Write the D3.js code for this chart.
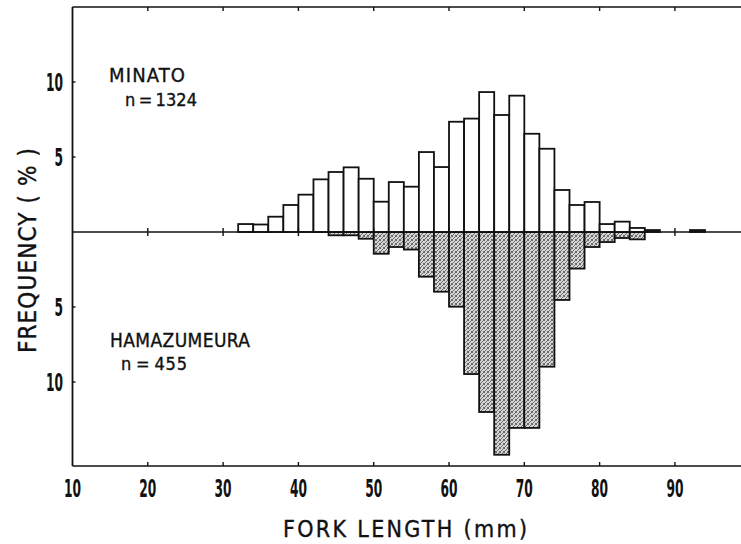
<!DOCTYPE html>
<html>
<head>
<meta charset="utf-8">
<script src="https://cdn.jsdelivr.net/npm/d3@7"></script>
<style>
  html, body { margin: 0; padding: 0; background: #fff; }
  svg { display: block; }
  text { font-family: "DejaVu Sans Condensed", "DejaVu Sans", "Liberation Sans", sans-serif; fill: #111; }
  .lab { stroke: #111; stroke-width: 0.35px; }
</style>
</head>
<body>
<svg id="chart" width="741" height="544"></svg>
<script>
// Bin starts (mm), each bin 2 mm wide
const binStarts = [32,34,36,38,40,42,44,46,48,50,52,54,56,58,60,62,64,66,68,70,72,74,76,78,80,82,84,86,88,90,92];
// MINATO frequency (%) per bin (upward)
const minato = [0.53,0.5,1.02,1.8,2.49,3.51,4.0,4.31,3.55,2.02,3.33,3.02,5.33,4.33,7.35,7.56,9.33,7.8,9.09,6.55,5.55,2.8,1.8,2.0,0.53,0.69,0.27,0.13,0,0,0.13];
// HAMAZUMEURA frequency (%) per bin (downward)
const hamazu = [0,0,0,0,0,0,0.22,0.22,0.45,1.45,1.0,1.17,2.98,3.98,4.98,9.47,12.0,14.85,13.06,13.06,8.98,4.53,2.44,1.0,0.67,0.4,0.49,0,0,0,0];
const binWidth = 2;
const xTicks = [10,20,30,40,50,60,70,80,90];
const yTicks = [-10,-5,5,10];
const xLabel = "FORK LENGTH (mm)";
const yLabel = "FREQUENCY ( % )";
const groups = [
  {name: "MINATO", n: "n\u2009=\u20091324"},
  {name: "HAMAZUMEURA", n: "n\u2009=\u2009455"}
];

const svg = d3.select("#chart");
const x = d3.scaleLinear().domain([10, 99]).range([72.5, 742.7]);
const y = d3.scaleLinear().domain([-15.6, 15]).range([466, 7]);

// stipple pattern
const defs = svg.append("defs");
const pat = defs.append("pattern").attr("id", "stip").attr("patternUnits", "userSpaceOnUse")
  .attr("width", 4).attr("height", 4);
pat.append("rect").attr("width", 4).attr("height", 4).attr("fill", "#d6d6d6");
[[0,0],[2,1],[1,2],[3,3],[3,0],[0,3]].forEach(([a,b]) =>
  pat.append("rect").attr("x", a).attr("y", b).attr("width", 1).attr("height", 1).attr("fill", "#6a6a6a"));

const data = binStarts.map((s, i) => ({s, m: minato[i], h: hamazu[i]}));

// Hamazumeura bars (downward)
svg.append("g").selectAll("rect").data(data.filter(d => d.h > 0)).join("rect")
  .attr("x", d => x(d.s)).attr("width", d => x(d.s + binWidth) - x(d.s))
  .attr("y", y(0)).attr("height", d => y(-d.h) - y(0))
  .attr("fill", "url(#stip)").attr("stroke", "#111").attr("stroke-width", 1.8);

// Minato bars (upward)
svg.append("g").selectAll("rect").data(data.filter(d => d.m > 0)).join("rect")
  .attr("x", d => x(d.s)).attr("width", d => x(d.s + binWidth) - x(d.s))
  .attr("y", d => y(d.m)).attr("height", d => y(0) - y(d.m))
  .attr("fill", d => d.m < 0.2 ? "#555" : "#fff").attr("stroke", "#111").attr("stroke-width", 1.8);

const x0 = x.range()[0], x1 = 741;
// frame lines
svg.append("line").attr("x1", x0).attr("x2", x1).attr("y1", y(15)).attr("y2", y(15)).attr("stroke", "#111").attr("stroke-width", 1.5);
svg.append("line").attr("x1", x0).attr("x2", x1).attr("y1", y(0)).attr("y2", y(0)).attr("stroke", "#111").attr("stroke-width", 1.5);
svg.append("line").attr("x1", x0).attr("x2", x1).attr("y1", y(-15.6)).attr("y2", y(-15.6)).attr("stroke", "#111").attr("stroke-width", 1.5);
svg.append("line").attr("x1", x0).attr("x2", x0).attr("y1", y(15)).attr("y2", y(-15.6)).attr("stroke", "#111").attr("stroke-width", 1.8);

// x ticks: top (inward), zero line (crossing), bottom (inward)
const tk = svg.append("g").attr("stroke", "#111").attr("stroke-width", 1.4);
xTicks.slice(1).forEach(v => {
  tk.append("line").attr("x1", x(v)).attr("x2", x(v)).attr("y1", y(15)).attr("y2", y(15) + 4);
  tk.append("line").attr("x1", x(v)).attr("x2", x(v)).attr("y1", y(0) - 4).attr("y2", y(0) + 4);
  tk.append("line").attr("x1", x(v)).attr("x2", x(v)).attr("y1", y(-15.6)).attr("y2", y(-15.6) - 4);
});
yTicks.forEach(v => {
  tk.append("line").attr("x1", x0).attr("x2", x0 + 3).attr("y1", y(v)).attr("y2", y(v));
});

// x tick labels
svg.append("g").selectAll("text").data(xTicks).join("text")
  .attr("x", d => x(d)).attr("y", 497).attr("text-anchor", "middle")
  .attr("font-size", 25).attr("font-weight", "bold")
  .attr("textLength", 17).attr("lengthAdjust", "spacingAndGlyphs")
  .text(d => d);

// y tick labels
svg.append("g").selectAll("text").data(yTicks).join("text")
  .attr("x", 63).attr("y", d => y(d) + 9).attr("text-anchor", "end")
  .attr("font-size", 25).attr("font-weight", "bold")
  .attr("textLength", d => String(Math.abs(d)).length * 8.5).attr("lengthAdjust", "spacingAndGlyphs")
  .text(d => Math.abs(d));

// axis titles
svg.append("text").attr("class", "lab").attr("x", 283).attr("y", 537)
  .attr("font-size", 23).attr("textLength", 244).attr("lengthAdjust", "spacing")
  .text(xLabel);
svg.append("text").attr("class", "lab").attr("transform", "translate(36,353) rotate(-90)")
  .attr("font-size", 24).attr("textLength", 205).attr("lengthAdjust", "spacing")
  .text(yLabel);

// group labels
svg.append("text").attr("class", "lab").attr("x", 109).attr("y", 82).attr("font-size", 20)
  .attr("textLength", 76).attr("lengthAdjust", "spacing").text(groups[0].name);
svg.append("text").attr("class", "lab").attr("x", 125).attr("y", 106).attr("font-size", 18)
  .attr("textLength", 72).attr("lengthAdjust", "spacing").text(groups[0].n);
svg.append("text").attr("class", "lab").attr("x", 110).attr("y", 347).attr("font-size", 19)
  .attr("textLength", 140).attr("lengthAdjust", "spacing").text(groups[1].name);
svg.append("text").attr("class", "lab").attr("x", 121).attr("y", 370).attr("font-size", 18)
  .attr("textLength", 66).attr("lengthAdjust", "spacing").text(groups[1].n);
</script>
</body>
</html>
